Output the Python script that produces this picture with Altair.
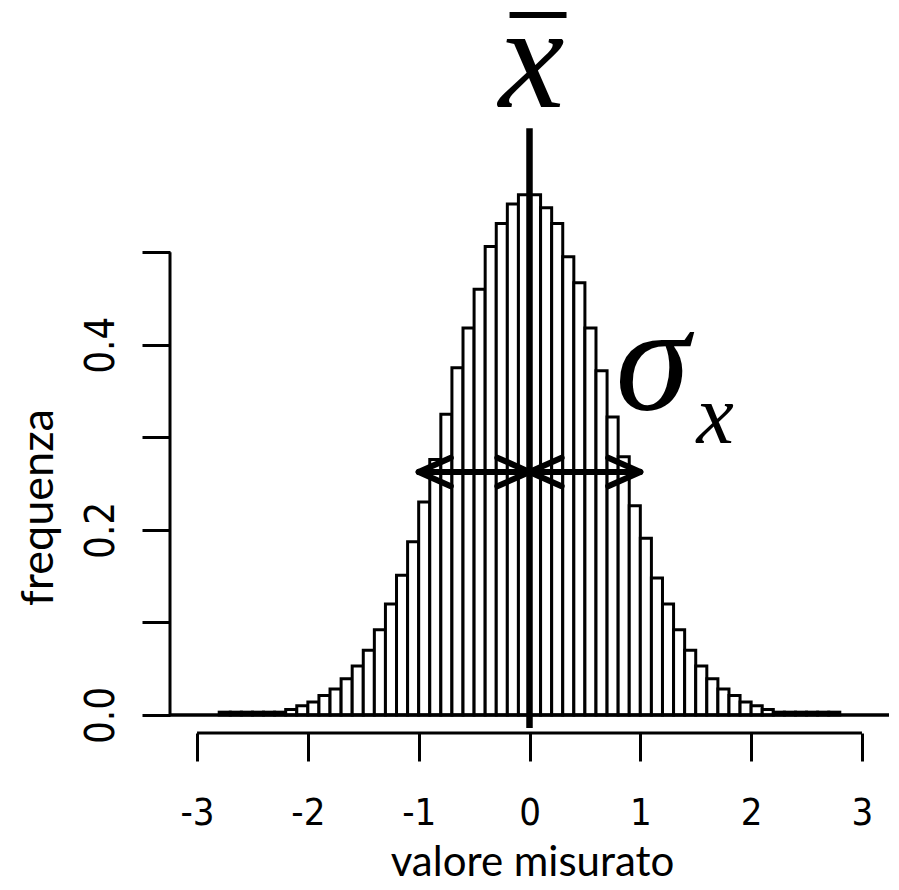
import altair as alt
import pandas as pd

# ---- data ----
bin_left = [-2.8, -2.7, -2.6, -2.5, -2.4, -2.3, -2.2, -2.1, -2.0, -1.9,
            -1.8, -1.7, -1.6, -1.5, -1.4, -1.3, -1.2, -1.1, -1.0, -0.9,
            -0.8, -0.7, -0.6, -0.5, -0.4, -0.3, -0.2, -0.1, 0.0, 0.1,
            0.2, 0.3, 0.4, 0.5, 0.6, 0.7, 0.8, 0.9, 1.0, 1.1,
            1.2, 1.3, 1.4, 1.5, 1.6, 1.7, 1.8, 1.9, 2.0, 2.1,
            2.2, 2.3, 2.4, 2.5, 2.6, 2.7]
bin_width = 0.1
freq = [0.003, 0.003, 0.003, 0.003, 0.003, 0.003, 0.006, 0.010, 0.014, 0.021,
        0.028, 0.039, 0.053, 0.070, 0.092, 0.120, 0.151, 0.187, 0.230, 0.276,
        0.325, 0.375, 0.418, 0.460, 0.506, 0.531, 0.552, 0.562, 0.562, 0.548,
        0.531, 0.495, 0.467, 0.418, 0.372, 0.322, 0.279, 0.226, 0.191, 0.148,
        0.120, 0.092, 0.070, 0.053, 0.039, 0.028, 0.021, 0.014, 0.010, 0.006,
        0.003, 0.003, 0.003, 0.003, 0.003, 0.003]

x_ticks = [-3, -2, -1, 0, 1, 2, 3]
y_ticks = [0.0, 0.1, 0.2, 0.3, 0.4, 0.5]
x_domain = [-3.244, 3.244]
y_domain = [-0.0195, 0.7638]

mean_value = 0.0
sigma = 1.0
arrow_y = 0.2625
head_dx = 0.29
head_dy = 0.0155
mean_line_ends = [-0.014, 0.634]
overbar = [-0.18, 0.334, 0.7563]

x_title = "valore misurato"
y_title = "frequenza"

# ---- tables ----
bars = pd.DataFrame({
    "x": bin_left,
    "x2": [b + bin_width for b in bin_left],
    "y": freq,
    "y2": [0.0] * len(freq),
})

W, H = 719, 725
LABEL_FONT = "Liberation Sans Narrow, Arial Narrow, DejaVu Sans Condensed, sans-serif"

xs = alt.Scale(domain=x_domain, nice=False, zero=False)
ys = alt.Scale(domain=y_domain, nice=False, zero=False)

x_axis = alt.Axis(
    values=x_ticks, domain=False, grid=False,
    ticks=True, tickSize=28, tickWidth=3, tickColor="black",
    labelFont=LABEL_FONT,
    labelFontSize=38, labelColor="black", labelBaseline="alphabetic",
    labelPadding=63, labelFlush=False, labelOverlap=False, labelAngle=0,
    labelExpr="datum.value + ''",
    title=x_title, titleFont="Lato", titleFontSize=42, titleFontWeight="normal",
    titleColor="black", titleX=362, titleY=142, titleBaseline="alphabetic",
    titleAlign="center",
)
y_axis = alt.Axis(
    values=y_ticks, domain=False, grid=False,
    ticks=True, tickSize=28, tickWidth=3, tickColor="black",
    labelFont=LABEL_FONT,
    labelFontSize=40, labelColor="black", labelAngle=270,
    labelAlign="center", labelBaseline="alphabetic", labelPadding=29,
    labelFlush=False, labelOverlap=False,
    labelExpr="round(datum.value*10) % 2 == 0 ? format(datum.value, '.1f') : ''",
    title=y_title, titleFont="Lato", titleFontSize=45, titleFontWeight="normal",
    titleColor="black", titleAngle=270, titleX=-118, titleY=499,
    titleBaseline="alphabetic", titleAlign="center",
)


def X(f="x"):
    return alt.X(f + ":Q", scale=xs, axis=x_axis)


def Y(f="y"):
    return alt.Y(f + ":Q", scale=ys, axis=y_axis)


hist = alt.Chart(bars).mark_rect(fill="white", stroke="black", strokeWidth=3).encode(
    x=X(), x2="x2:Q", y=Y(), y2="y2:Q"
)

# structural lines: baseline, axis lines, mean line
lines = pd.DataFrame({
    "x": [x_domain[0], x_ticks[0], x_domain[0], mean_value],
    "x2": [x_domain[1], x_ticks[-1], x_domain[0], mean_value],
    "y": [0.0, y_domain[0], y_ticks[0], mean_line_ends[0]],
    "y2": [0.0, y_domain[0], y_ticks[-1], mean_line_ends[1]],
    "w": [3.5, 3, 3, 6.5],
})
line_layer = alt.Chart(lines).mark_rule(color="black", strokeCap="butt").encode(
    x=X(), x2="x2:Q", y=Y(), y2="y2:Q",
    strokeWidth=alt.StrokeWidth("w:Q", scale=None),
)

# sigma arrows: shaft plus barbs
tips = [mean_value - sigma, mean_value, mean_value, mean_value + sigma]
dirs = [1, -1, 1, -1]  # direction the barbs go back from the tip
ax, ax2, ay, ay2 = [mean_value - sigma + 0.01], [mean_value + sigma - 0.01], [arrow_y], [arrow_y]
for t, d in zip(tips, dirs):
    for s in (1, -1):
        ax.append(t)
        ax2.append(t + d * head_dx)
        ay.append(arrow_y)
        ay2.append(arrow_y + s * head_dy)
arrows = pd.DataFrame({"x": ax, "x2": ax2, "y": ay, "y2": ay2})
arrow_layer = alt.Chart(arrows).mark_rule(color="black", strokeWidth=6, strokeCap="round").encode(
    x=X(), x2="x2:Q", y=Y(), y2="y2:Q"
)

# overbar of x-bar
ob = pd.DataFrame({"x": [overbar[0]], "x2": [overbar[1]], "y": [overbar[2]]})
overbar_layer = alt.Chart(ob).mark_rule(color="black", strokeWidth=6, strokeCap="butt").encode(
    x=X(), x2="x2:Q", y=Y()
)


# symbols
def sym(xv, yv, txt, size):
    df = pd.DataFrame({"x": [xv], "y": [yv], "t": [txt]})
    return alt.Chart(df).mark_text(
        font="Liberation Serif, Times New Roman, serif", fontStyle="italic", fontSize=size,
        color="black", align="center", baseline="alphabetic",
    ).encode(x=X(), y=Y(), text="t:N")


xbar_text = sym(0.02, 0.657, "x", 148)
sigma_text = sym(1.11, 0.3295, "σ", 150)
sub_text = sym(1.675, 0.294, "x", 84)

chart = alt.layer(
    hist, line_layer, arrow_layer, overbar_layer, xbar_text, sigma_text, sub_text
).properties(
    width=W, height=H,
    autosize=alt.AutoSizeParams(type="none"),
    padding={"left": 162, "top": 0, "right": 2, "bottom": 156},
    background="white",
).configure_view(strokeWidth=0, stroke="transparent")

chart.save("out.html", embed_options={"renderer": "svg", "actions": False})
